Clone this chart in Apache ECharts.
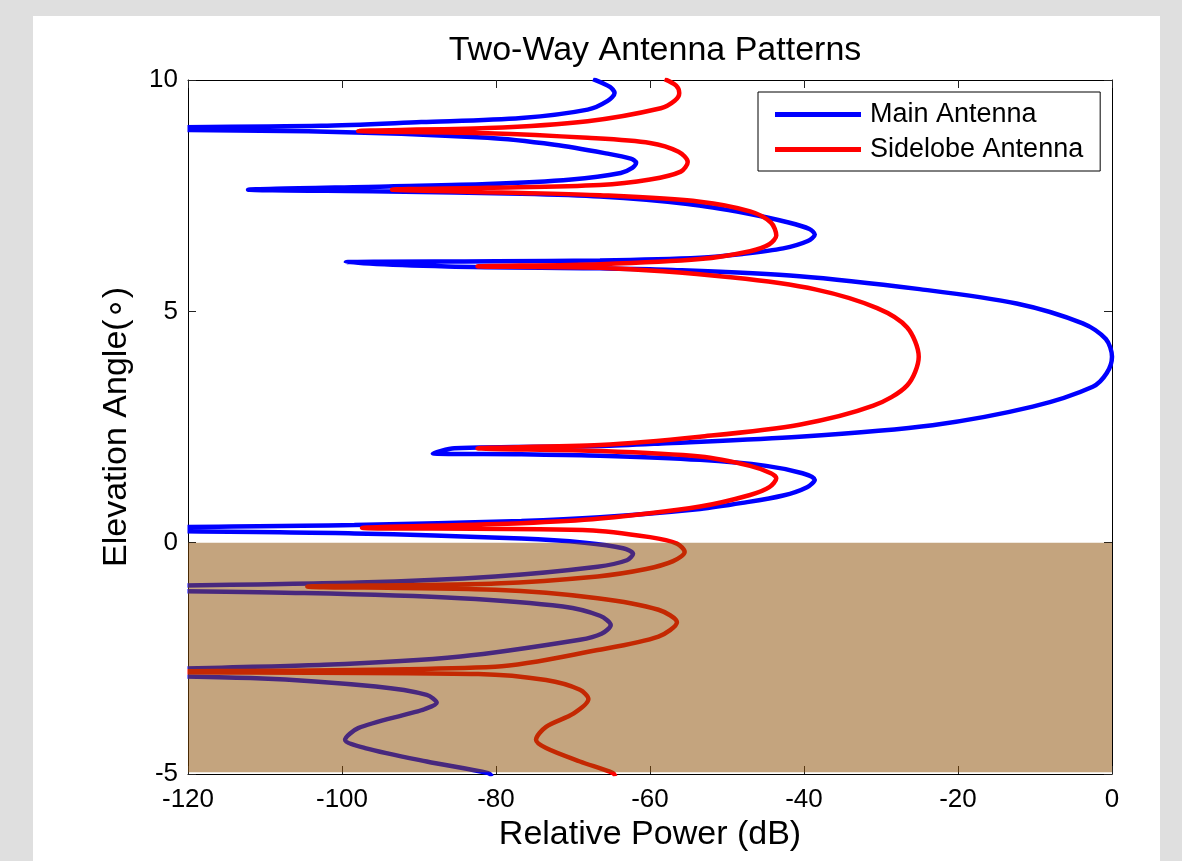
<!DOCTYPE html>
<html>
<head>
<meta charset="utf-8">
<script src="https://cdn.jsdelivr.net/npm/echarts@6/dist/echarts.min.js"></script>
<style>
	html, body { margin: 0; padding: 0; background: #dfdfdf; }
	#panel { position: absolute; left: 33px; top: 16px; width: 1127px; height: 845px; background: #fff; }
	#main { position: absolute; left: 0; top: 0; width: 1182px; height: 861px; }
</style>
</head>
<body>
<div id="panel"></div>
<div id="main"></div>
<script>
// [relative power (dB), elevation angle (deg)]
var mainPattern = [
	[-67.4, 10.02], [-65.2, 9.85], [-64.6, 9.72], [-65.5, 9.55], [-68.1, 9.36], [-76.7, 9.18],
	[-89.7, 9.09], [-102.7, 9.01], [-140, 8.95], [-104.4, 8.89], [-81.1, 8.75], [-72.4, 8.60],
	[-65.9, 8.42], [-62.5, 8.30], [-61.8, 8.21], [-62.3, 8.10], [-63.8, 7.99], [-70.2, 7.85],
	[-81.1, 7.75], [-94.0, 7.70], [-112.2, 7.63], [-94.0, 7.59], [-76.7, 7.54], [-66.5, 7.48],
	[-55.1, 7.32], [-47.5, 7.12], [-42.0, 6.92], [-39.3, 6.78], [-38.6, 6.66], [-39.5, 6.52],
	[-42.7, 6.36], [-48.0, 6.24], [-53.5, 6.16], [-66.5, 6.10], [-80.0, 6.08], [-99.5, 6.06],
	[-86.3, 5.97], [-66.5, 5.93], [-57.9, 5.90], [-40.6, 5.76], [-25.0, 5.48], [-12.4, 5.17],
	[-3.8, 4.74], [-0.8, 4.40], [0, 4.02], [-0.7, 3.66], [-2.5, 3.37], [-10.3, 2.94],
	[-23.3, 2.54], [-40.6, 2.29], [-57.9, 2.15], [-66.5, 2.09], [-85.4, 2.04], [-88.2, 1.93],
	[-76.7, 1.91], [-66.5, 1.88], [-53.5, 1.79], [-44.9, 1.66], [-40.2, 1.50], [-38.6, 1.36],
	[-39.6, 1.20], [-42.7, 1.02], [-48.0, 0.86], [-53.5, 0.73], [-66.5, 0.55], [-76.7, 0.47],
	[-98.4, 0.38], [-140, 0.29], [-98.4, 0.20], [-76.7, 0.09], [-68.5, 0.0], [-63.5, -0.12],
	[-62.2, -0.24], [-63.0, -0.38], [-66.8, -0.52], [-80.1, -0.73], [-97.9, -0.86], [-140, -0.99],
	[-104.9, -1.09], [-84.6, -1.20], [-71.3, -1.38], [-66.5, -1.58], [-65.1, -1.78], [-66.3, -1.97],
	[-69.1, -2.10], [-84.6, -2.46], [-102.3, -2.64], [-140, -2.82], [-111.1, -2.93], [-95.6, -3.11],
	[-89.0, -3.29], [-87.7, -3.46], [-89.3, -3.60], [-91.2, -3.69], [-97.9, -4.01], [-99.6, -4.26],
	[-97.0, -4.44], [-89.0, -4.73], [-81.0, -4.98], [-80.5, -5.05]
];
var sidePattern = [
	[-58.1, 10.02], [-56.6, 9.88], [-56.2, 9.72], [-56.8, 9.55], [-58.6, 9.39], [-68.1, 9.11],
	[-81.1, 8.96], [-97.9, 8.90], [-81.1, 8.85], [-68.1, 8.75], [-60.0, 8.64], [-56.3, 8.45],
	[-55.1, 8.23], [-56.0, 8.02], [-60.0, 7.85], [-66.5, 7.73], [-81.1, 7.67], [-93.5, 7.63],
	[-76.7, 7.56], [-66.5, 7.51], [-53.5, 7.37], [-47.0, 7.16], [-44.3, 6.92], [-43.6, 6.64],
	[-44.5, 6.45], [-47.0, 6.30], [-53.5, 6.13], [-66.5, 6.02], [-82.4, 5.97], [-66.5, 5.94],
	[-49.2, 5.73], [-38.4, 5.47], [-30.5, 5.07], [-26.6, 4.65], [-25.1, 4.02], [-26.6, 3.40],
	[-31.0, 2.96], [-40.6, 2.55], [-53.5, 2.29], [-66.5, 2.11], [-82.4, 2.04], [-66.5, 1.98],
	[-53.5, 1.86], [-47.0, 1.66], [-44.3, 1.50], [-43.6, 1.39], [-44.5, 1.20], [-47.0, 1.03],
	[-53.5, 0.78], [-66.5, 0.52], [-76.7, 0.42], [-97.4, 0.32], [-68.1, 0.27], [-60.0, 0.12],
	[-56.5, -0.02], [-55.5, -0.20], [-57.0, -0.40], [-60.5, -0.57], [-66.8, -0.73], [-80.1, -0.88],
	[-104.5, -0.95], [-80.1, -1.02], [-66.8, -1.20], [-58.9, -1.45], [-56.5, -1.72], [-58.9, -2.03],
	[-66.8, -2.32], [-80.1, -2.68], [-125, -2.79], [-82.3, -2.84], [-73.5, -2.97], [-69.1, -3.18],
	[-68.0, -3.38], [-69.9, -3.69], [-73.5, -3.98], [-74.8, -4.26], [-73.5, -4.44], [-69.1, -4.73],
	[-64.8, -4.98], [-64.5, -5.05]
];
// ground region: [power min, angle min, power max, angle max]
var groundBox = [-120, -4.96, 0, 0];
var seriesNames = ['Main Antenna', 'Sidelobe Antenna'];
var powerRange = [-120, 0];
var angleRange = [-5, 10];

var myChart = echarts.init(document.getElementById('main'), null, { renderer: 'canvas' });
var font = 'Liberation Sans, Arial, sans-serif';

function axisBase(extra) {
	var a = {
		type: 'value',
		axisLine: { show: true, onZero: false, lineStyle: { color: '#000', width: 1 } },
		axisTick: { show: true, inside: true, length: 8, lineStyle: { color: '#222', width: 1 } },
		splitLine: { show: false },
		axisLabel: { show: false }
	};
	for (var k in extra) a[k] = extra[k];
	return a;
}

option = {
	animation: false,
	backgroundColor: 'transparent',
	title: {
		text: 'Two-Way Antenna Patterns',
		left: 650, top: 29, textAlign: 'center',
		textStyle: { fontFamily: font, fontSize: 34, fontWeight: 'normal', color: '#000' }
	},
	grid: { left: 188, right: 70, top: 80, bottom: 87 },
	legend: {
		data: seriesNames,
		orient: 'vertical',
		left: 758, top: 92,
		icon: 'rect',
		itemWidth: 86, itemHeight: 5, itemGap: 8,
		padding: [9, 17, 8, 17],
		borderColor: '#000', borderWidth: 1, backgroundColor: '#fff',
		textStyle: { fontFamily: font, fontSize: 27, color: '#000', padding: [0, 0, 0, 4] }
	},
	// white strip left of the axis, so clipped lines stop at the axis like in the picture
	graphic: [{
		type: 'rect', left: 180, top: 82, z: 100, silent: true,
		shape: { width: 7.5, height: 690 },
		style: { fill: '#fff' }
	}],
	xAxis: [
		axisBase({
			min: powerRange[0], max: powerRange[1], interval: 20, position: 'bottom',
			name: 'Relative Power (dB)', nameLocation: 'middle', nameGap: 43,
			nameTextStyle: { fontFamily: font, fontSize: 34, color: '#000' },
			axisLabel: { show: true, fontFamily: font, fontSize: 26, color: '#000', margin: 13 }
		}),
		axisBase({ min: powerRange[0], max: powerRange[1], interval: 20, position: 'top' })
	],
	yAxis: [
		axisBase({
			min: angleRange[0], max: angleRange[1], interval: 5, position: 'left',
			name: 'Elevation Angle(\u2218)', nameLocation: 'middle', nameGap: 54,
			nameTextStyle: { fontFamily: font, fontSize: 34, color: '#000' },
			axisLabel: { show: true, fontFamily: font, fontSize: 26, color: '#000', margin: 10 }
		}),
		axisBase({ min: angleRange[0], max: angleRange[1], interval: 5, position: 'right' })
	],
	series: [{
		name: seriesNames[0],
		type: 'line',
		data: mainPattern,
		symbol: 'none',
		smooth: 0.3,
		clip: true,
		z: 2,
		lineStyle: { color: '#0000ff', width: 4.5 },
		itemStyle: { color: '#0000ff' }
	}, {
		name: seriesNames[1],
		type: 'line',
		data: sidePattern,
		symbol: 'none',
		smooth: 0.3,
		clip: true,
		z: 2,
		lineStyle: { color: '#ff0000', width: 4.5 },
		itemStyle: { color: '#ff0000' }
	}, {
		name: 'Ground',
		type: 'custom',
		z: 3,
		data: [groundBox],
		renderItem: function(params, api) {
			var p1 = api.coord([api.value(0), api.value(3)]);
			var p2 = api.coord([api.value(2), api.value(1)]);
			return {
				type: 'rect',
				shape: { x: p1[0], y: p1[1], width: p2[0] - p1[0], height: p2[1] - p1[1] },
				style: { fill: 'rgba(140, 78, 4, 0.514)' }
			};
		}
	}]
};

myChart.setOption(option);
</script>
</body>
</html>
